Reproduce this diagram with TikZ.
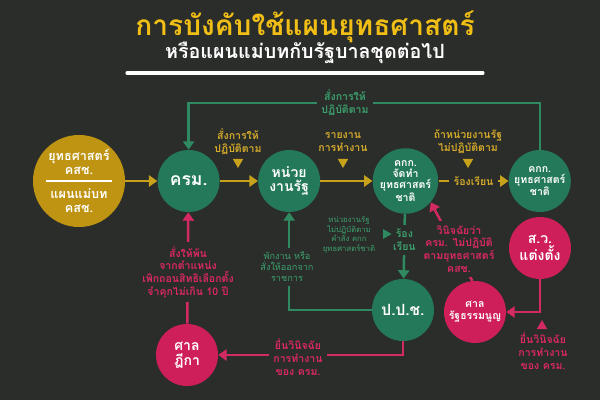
\documentclass[tikz,border=0pt]{standalone}
\usepackage{fontspec}
\usepackage{tikz}
\usetikzlibrary{positioning}
\usetikzlibrary{shapes.geometric}
\usetikzlibrary{arrows.meta}
\newfontfamily\thaifont[Script=Thai]{Loma}
\definecolor{bgcol}{HTML}{2A2D29}
\definecolor{greenfill}{HTML}{23795A}
\definecolor{goldfill}{HTML}{BF9413}
\definecolor{pinkfill}{HTML}{CF1F5B}
\definecolor{greenln}{HTML}{2F8A62}
\definecolor{goldln}{HTML}{C9A21C}
\definecolor{pinkln}{HTML}{D42A64}
\definecolor{greentxt}{HTML}{3CA06E}
\definecolor{goldtxt}{HTML}{D6AB2C}
\definecolor{pinktxt}{HTML}{DC2864}
\definecolor{titleyellow}{HTML}{F0BE14}

\begin{document}
\begin{tikzpicture}[
x=0.025cm, y=-0.025cm,
font=\thaifont,
>={Triangle[length=6pt,width=8pt]},
greennode/.style={circle, fill=greenfill, text=white, minimum size=1.55cm, inner sep=0pt, align=center},
pinknode/.style={circle, fill=pinkfill, text=white, minimum size=1.55cm, inner sep=0pt, align=center},
goldnode/.style={circle, fill=goldfill, text=white, minimum size=2.3cm, inner sep=0pt, align=center},
goldline/.style={draw=goldln, line width=1.8pt},
greenline/.style={draw=greenln, line width=1.8pt},
pinkline/.style={draw=pinkln, line width=1.8pt},
goldlabel/.style={text=goldtxt, align=center, fill=bgcol, inner sep=3pt, font=\thaifont\bfseries\fontsize{7.5}{9}\selectfont},
greenlabel/.style={text=greentxt, align=center, fill=bgcol, inner sep=3pt, font=\thaifont\bfseries\fontsize{7.5}{9}\selectfont},
pinklabel/.style={text=pinktxt, align=center, fill=bgcol, inner sep=3pt, font=\thaifont\bfseries\fontsize{7.5}{9}\selectfont},
tridown/.style={regular polygon, regular polygon sides=3, shape border rotate=180, minimum size=0.3cm, inner sep=0pt},
triup/.style={regular polygon, regular polygon sides=3, minimum size=0.3cm, inner sep=0pt},
triright/.style={regular polygon, regular polygon sides=3, shape border rotate=-90, minimum size=0.28cm, inner sep=0pt},
]
\fill[bgcol] (0,0) rectangle (600,400);

%Title
\node[text=titleyellow, font=\thaifont\bfseries\fontsize{20}{22}\selectfont] (title) at (305,27) {การบังคับใช้แผนยุทธศาสตร์};
\node[text=white, font=\thaifont\bfseries\fontsize{14}{16}\selectfont] (subtitle) at (305,53) {หรือแผนแม่บทกับรัฐบาลชุดต่อไป};
\draw[white, line width=2.2pt, line cap=round] (127,73) -- (483,73);

%Nodes
\node[goldnode, font=\thaifont\bfseries\fontsize{9}{10.5}\selectfont] (goldc) at (79,181) {ยุทธศาสตร์\\คสช.\\[6pt]แผนแม่บท\\คสช.};
\node[greennode, font=\thaifont\bfseries\fontsize{12.5}{13}\selectfont] (krm) [right=0.8cm of goldc] {ครม.};
\node[greennode, font=\thaifont\bfseries\fontsize{10}{10.5}\selectfont] (hn) [right=0.95cm of krm] {หน่วย\\งานรัฐ};
\node[greennode, font=\thaifont\bfseries\fontsize{7.5}{8}\selectfont] (kkk) [right=1.3cm of hn] {คกก.\\จัดทำ\\ยุทธศาสตร์\\ชาติ};
\node[greennode, font=\thaifont\bfseries\fontsize{7.5}{8.5}\selectfont] (kkkc) [right=1.75cm of kkk] {คกก.\\ยุทธศาสตร์\\ชาติ};
\node[greennode, font=\thaifont\bfseries\fontsize{11}{12}\selectfont] (ppc) at (403,310) {ป.ป.ช.};
\node[pinknode, font=\thaifont\bfseries\fontsize{10}{10.5}\selectfont] (sdk) at (187,355) {ศาล\\ฎีกา};
\node[pinknode, font=\thaifont\bfseries\fontsize{10}{10.5}\selectfont] (sw) at (540,248) {ส.ว.\\แต่งตั้ง};
\node[pinknode, font=\thaifont\bfseries\fontsize{7.5}{8.5}\selectfont] (srn) at (475,312) {ศาล\\รัฐธรรมนูญ};
\draw[white, line width=1.2pt] ([xshift=-0.83cm]goldc.center) -- ([xshift=0.83cm]goldc.center);
\coordinate (toprail) at (345,103);

%Lines
\draw[goldline, ->] (goldc) -- (krm);
\draw[goldline, ->] (krm) -- (hn);
\draw[goldline, ->] (hn) -- (kkk);
\draw[goldline, ->] (kkk) -- (kkkc) node[midway, goldlabel] (rong1) {ร้องเรียน};
\draw[greenline, ->] (kkkc.north) -- (kkkc.north |- toprail) -| (krm.north);
\draw[greenline, ->] (kkk) -- (ppc) node[pos=0.4, greenlabel] (rong2) {ร้อง\\เรียน};
\draw[greenline, ->] (ppc.west) -| (hn.south);
\draw[pinkline, ->] (ppc.south) |- (sdk.east);
\draw[pinkline, ->] (sdk) -- (krm);
\draw[pinkline, ->] (sw.south) |- (srn.east);
\draw[pinkline, ->] (srn.95) -- (kkk.-40);

%Labels
\node[greenlabel] (order0) at (toprail) {สั่งการให้\\ปฏิบัติตาม};
\node[goldlabel] (order1) at (238,142) {สั่งการให้\\ปฏิบัติตาม};
\node[tridown, fill=goldln] (tri1) at (238,162) {};
\node[goldlabel] (report) at (343,142) {รายงาน\\การทำงาน};
\node[tridown, fill=goldln] (tri2) at (343,162) {};
\node[goldlabel] (ifnot) at (468,142) {ถ้าหน่วยงานรัฐ\\ไม่ปฏิบัติตาม};
\node[tridown, fill=goldln] (tri3) at (468,162) {};
\node[greenlabel, font=\thaifont\fontsize{5.5}{6.8}\selectfont] (notdo) at (349,235) {หน่วยงานรัฐ\\ไม่ปฏิบัติตาม\\คำสั่ง คกก\\ยุทธศาสตร์ชาติ};
\node[triright, fill=greenln] (tri4) at (386,234) {};
\node[greenlabel, font=\thaifont\fontsize{6.5}{7.8}\selectfont] (suspend) at (287,267) {พักงาน หรือ\\สั่งให้ออกจาก\\ราชการ};
\node[pinklabel] (remove) at (188,272) {สั่งให้พ้น\\จากตำแหน่ง\\เพิกถอนสิทธิเลือกตั้ง\\จำคุกไม่เกิน 10 ปี};
\node[pinklabel] (submit1) at (298,357) {ยื่นวินิจฉัย\\การทำงาน\\ของ ครม.};
\node[pinklabel] (judge) at (459,249) {วินิจฉัยว่า\\ครม. ไม่ปฏิบัติ\\ตามยุทธศาสตร์\\คสช.};
\node[triup, fill=pinkln] (tri5) at (542,326) {};
\node[pinklabel, fill=none] (submit2) at (543,351) {ยื่นวินิจฉัย\\การทำงาน\\ของ ครม.};
\end{tikzpicture}
\end{document}
